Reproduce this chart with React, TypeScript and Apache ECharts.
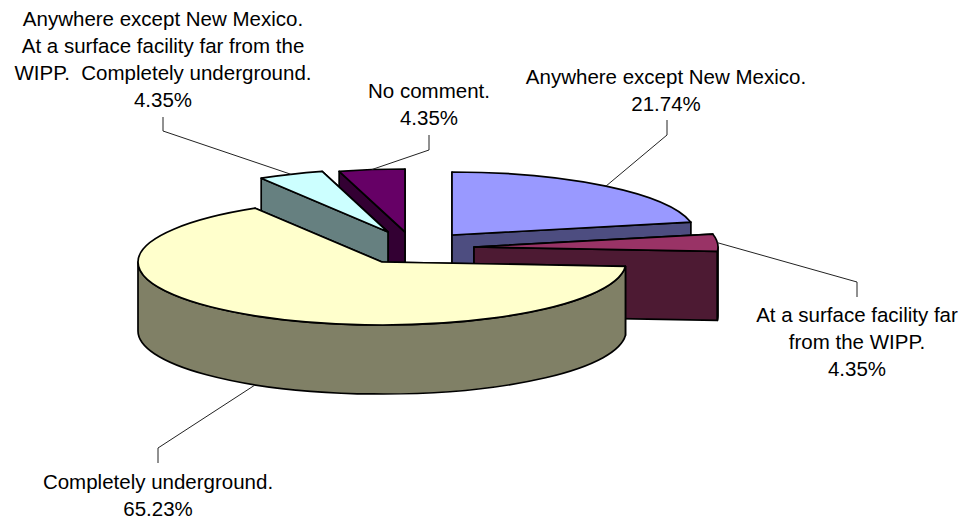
import React, { useEffect, useRef } from "react";
import * as echarts from "echarts";

const categories = [
  "Anywhere except New Mexico.",
  "At a surface facility far\nfrom the WIPP.",
  "Completely underground.",
  "Anywhere except New Mexico.\nAt a surface facility far from the\nWIPP.  Completely underground.",
  "No comment.",
];
const shares = [21.74, 4.35, 65.23, 4.35, 4.35];

const topColors = ["#9999FF", "#993366", "#FFFFCC", "#CCFFFF", "#660066"];
const wallColors = ["#4D4D80", "#4D1A33", "#808066", "#668080", "#330033"];
const tips = [[452, 235], [474, 247], [382, 262], [388, 232], [405, 232]];
const drawRank = [2, 3, 4, 1, 0];
const elbows = [[[667, 135], [667, 120]], [[857, 282], [857, 297]], [[158, 448], [158, 463]], [[163, 131], [163, 117]], [[429, 150], [429, 135]]];
const labelCentres = [[666, 76], [857, 314], [158, 481], [163, 18], [429, 90]];
const RX = 244, RY = 63, DEPTH = 69, LINE = 27;

const total = shares.reduce((a, b) => a + b, 0);
const starts: number[] = [];
shares.reduce((acc, v, i) => { starts[i] = acc; return acc + v; }, 0);

function pt(c: number[], deg: number, dy = 0) {
  const r = (deg * Math.PI) / 180;
  return [c[0] + RX * Math.sin(r), c[1] - RY * Math.cos(r) + dy];
}

function renderItem(params: any, api: any) {
  const i = params.dataIndex;
  const value = api.value(0);
  const a0 = (starts[i] / total) * 360;
  const a1 = a0 + (value / total) * 360;
  const tip = tips[i];
  const base = drawRank[i] * 10;
  const line = { stroke: "#000", lineWidth: 1.7, lineJoin: "round" };
  const children: any[] = [];
  const p0 = pt(tip, a0);
  const p1 = pt(tip, a1);
  const wall = (p: number[], z: number) => ({
    type: "polygon",
    z2: base + z,
    shape: { points: [tip, p, [p[0], p[1] + DEPTH], [tip[0], tip[1] + DEPTH]] },
    style: { fill: wallColors[i], ...line },
  });
  const [far, near] = p0[1] < p1[1] ? [p0, p1] : [p1, p0];
  children.push(wall(far, 0), wall(near, 1));
  const f0 = Math.max(a0, 90), f1 = Math.min(a1, 270);
  if (f1 > f0) {
    const s = pt(tip, f0), e = pt(tip, f1);
    const large = f1 - f0 > 180 ? 1 : 0;
    children.push({
      type: "path",
      z2: base + 2,
      shape: {
        pathData:
          `M${s[0]} ${s[1]}A${RX} ${RY} 0 ${large} 1 ${e[0]} ${e[1]}` +
          `L${e[0]} ${e[1] + DEPTH}A${RX} ${RY} 0 ${large} 0 ${s[0]} ${s[1] + DEPTH}Z`,
      },
      style: { fill: wallColors[i], ...line },
    });
  }
  const large = a1 - a0 > 180 ? 1 : 0;
  children.push({
    type: "path",
    z2: base + 3,
    shape: {
      pathData: `M${tip[0]} ${tip[1]}L${p0[0]} ${p0[1]}A${RX} ${RY} 0 ${large} 1 ${p1[0]} ${p1[1]}Z`,
    },
    style: { fill: topColors[i], ...line },
  });
  const mid = (a0 + a1) / 2;
  const anchor = pt(tip, mid, Math.cos((mid * Math.PI) / 180) < 0 ? DEPTH : 0);
  children.push({
    type: "polyline",
    z2: 100,
    shape: { points: [anchor, ...elbows[i]] },
    style: { stroke: "#222", lineWidth: 1, fill: "none" },
  });
  const lines = categories[i].split("\n");
  lines.push(value.toFixed(2) + "%");
  lines.forEach((text, k) => {
    children.push({
      type: "text",
      z2: 101,
      x: labelCentres[i][0],
      y: labelCentres[i][1] + k * LINE,
      style: {
        text,
        fill: "#000",
        font: '20.5px "Liberation Sans", Arial, sans-serif',
        align: "center",
        verticalAlign: "middle",
      },
    });
  });
  return { type: "group", children };
}

export default function App() {
  const ref = useRef<HTMLDivElement>(null);
  useEffect(() => {
    const chart = echarts.init(ref.current!, undefined, { renderer: "svg" });
    chart.setOption({
      animation: false,
      backgroundColor: "#fff",
      series: [
        {
          type: "custom",
          coordinateSystem: "none",
          clip: false,
          renderItem,
          data: shares.map((v, i) => ({ value: [v], name: categories[i] })),
        },
      ],
    });
    return () => chart.dispose();
  }, []);
  return (
    <div
      ref={ref}
      style={{ position: "fixed", left: 0, top: 0, width: 967, height: 521 }}
    />
  );
}
